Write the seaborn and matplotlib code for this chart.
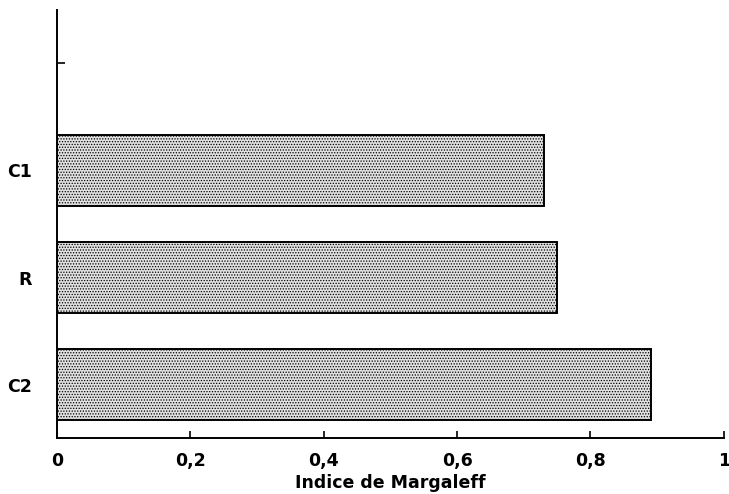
import matplotlib
matplotlib.use("Agg")
import matplotlib.pyplot as plt
import seaborn as sns
import pandas as pd

# Margalef richness index per site
sites = ["C1", "R", "C2"]
margalef = [0.73, 0.75, 0.89]
# axis slot order, top to bottom (the first slot is left blank)
slot_order = ["", "C1", "R", "C2"]
x_ticks = [0, 0.2, 0.4, 0.6, 0.8, 1.0]
x_tick_labels = ["0", "0,2", "0,4", "0,6", "0,8", "1"]
x_label = "Indice de Margaleff"

sns.set_style("white")
plt.rcParams["font.family"] = ["DejaVu Sans"]
plt.rcParams["hatch.color"] = "#626262"
plt.rcParams["hatch.linewidth"] = 0.6

df = pd.DataFrame({"site": sites, "value": margalef})

fig = plt.figure(figsize=(7.29, 4.94), dpi=100)
ax = fig.add_axes([0.078, 0.113, 0.915, 0.867])

sns.barplot(data=df, x="value", y="site", order=slot_order, orient="h",
            width=0.66, color="#e0e0e0", edgecolor="black", linewidth=1.4,
            saturation=1, ax=ax)
for patch in ax.patches:
    patch.set_hatch("......")

ax.set_xlim(0, 1)
ax.set_ylim(len(slot_order) - 0.5, -0.5)
ax.set_xticks(x_ticks)
ax.set_xticklabels(x_tick_labels)
ax.set_xlabel(x_label, fontsize=12.5, fontweight="bold", color="black",
              labelpad=3)
ax.set_ylabel("")

for side in ["top", "right"]:
    ax.spines[side].set_visible(False)
for side in ["left", "bottom"]:
    ax.spines[side].set_color("black")
    ax.spines[side].set_linewidth(1.4)

ax.tick_params(axis="x", direction="in", length=5, width=1.2, colors="black",
               labelsize=12.5, pad=10, bottom=True)
ax.tick_params(axis="y", direction="in", length=6, width=1.2, colors="black",
               labelsize=12.5, pad=18, left=True)
for lbl in ax.get_xticklabels() + ax.get_yticklabels():
    lbl.set_fontweight("bold")

fig.savefig("out.png", dpi=100, facecolor="white")
